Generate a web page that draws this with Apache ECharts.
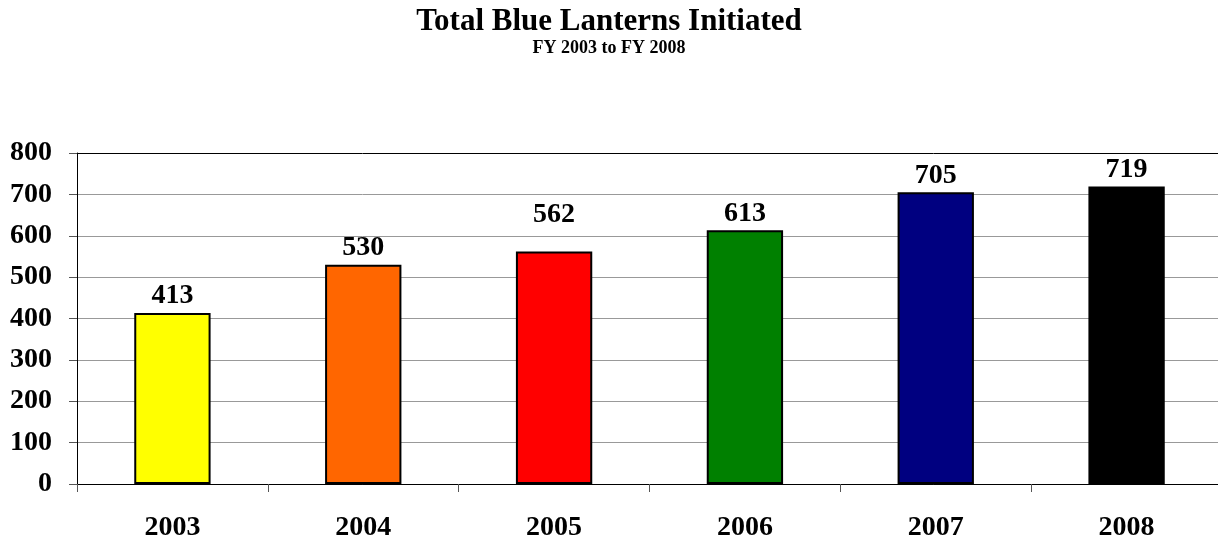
<!DOCTYPE html>
<html><head><meta charset="utf-8">
<script src="https://cdn.jsdelivr.net/npm/echarts@6/dist/echarts.min.js"></script>
<style>html,body{margin:0;padding:0;background:#fff}#c{width:1218px;height:542px}</style>
</head><body><div id="c"></div>
<script>
const categories = ['2003','2004','2005','2006','2007','2008'];
const values = [413, 530, 562, 613, 705, 719];
const barColors = ['#FFFF00','#FF6600','#FF0000','#008000','#000080','#000000'];
const labelExtraOffset = [0, 0, -20, 0, 0, 0];
const yTicks = [0,100,200,300,400,500,600,700,800];

const font = 'Liberation Serif, Times New Roman, serif';
const chart = echarts.init(document.getElementById('c'));
chart.setOption({
  animation: false,
  title: {
    text: 'Total Blue Lanterns Initiated',
    subtext: 'FY 2003 to FY 2008',
    left: 'center', top: 1, itemGap: 2,
    textStyle: {fontFamily: font, fontWeight: 'bold', fontSize: 31, color: '#000'},
    subtextStyle: {fontFamily: font, fontWeight: 'bold', fontSize: 18, color: '#000'}
  },
  grid: {left: 77, width: 1145, top: 153, bottom: 58, show: false, outerBoundsMode: 'none'},
  xAxis: {
    type: 'category', data: categories,
    axisLine: {lineStyle: {color: '#000', width: 1}},
    axisTick: {show: true, length: 8, lineStyle: {color: '#555'}},
    axisLabel: {fontFamily: font, fontWeight: 'bold', fontSize: 28, color: '#000', margin: 30}
  },
  yAxis: {
    type: 'value', min: yTicks[0], max: yTicks[yTicks.length-1], interval: 100,
    axisLine: {show: true, lineStyle: {color: '#000', width: 1}},
    axisTick: {show: true, length: 8, lineStyle: {color: '#555'}},
    axisLabel: {fontFamily: font, fontWeight: 'bold', fontSize: 28, color: '#000', margin: 25},
    splitLine: {show: true, lineStyle: {color: ['#000','#999','#999','#999','#999','#999','#999','#999','#000'], width: 1}}
  },
  series: [{
    type: 'bar', barWidth: '40%',
    data: values.map((v, i) => ({
      value: v,
      itemStyle: {color: barColors[i], borderColor: '#000', borderWidth: 2},
      label: {offset: [0, labelExtraOffset[i]]}
    })),
    label: {show: true, position: 'top', distance: 3, fontFamily: font, fontWeight: 'bold', fontSize: 28, color: '#000'}
  }]
});
</script></body></html>
